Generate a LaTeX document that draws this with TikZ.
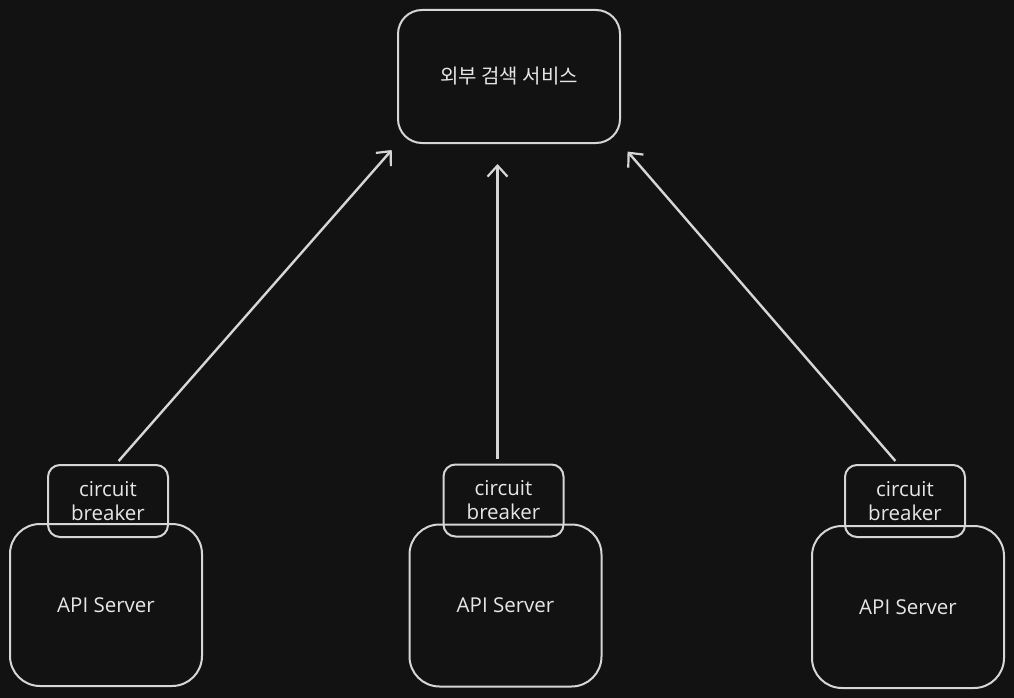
\documentclass[tikz,border=0pt]{standalone}
\usepackage{fontspec}
\setmainfont{Open Sans}
\newfontfamily\krfont{Noto Sans CJK KR}
\usepackage{tikz}
\usetikzlibrary{positioning,arrows.meta}
\definecolor{canvas}{HTML}{121212}
\definecolor{chalk}{HTML}{D6D6D6}
\definecolor{chalktext}{HTML}{E6E6E6}
\tikzset{
  sketchbox/.style={draw=chalk, line width=2pt, text=chalktext, align=center, inner sep=0pt},
  callarrow/.style={-{Straight Barb[length=11pt,width=20pt,line width=2.2pt]}, draw=chalk, line width=2.4pt}
}

\begin{document}
\begin{tikzpicture}[x=1pt, y=-1pt, font=\fontsize{20.5}{24}\selectfont]
  \tikzset{svcbox/.style={sketchbox, rounded corners=24pt, minimum width=222pt, minimum height=133pt},
           serverbox/.style={sketchbox, rounded corners=30pt, minimum width=192pt, minimum height=162pt},
           cbbox/.style={sketchbox, rounded corners=12pt, minimum width=120pt, minimum height=72pt}}

  \fill[canvas] (0,0) rectangle (1014,698);
  \useasboundingbox (0,0) rectangle (1014,698);

  \node[svcbox] (svc) at (509,76.5) {\krfont\fontsize{20}{24}\selectfont 외부 검색 서비스};

  \node[serverbox] (srvA) at (106,605) {API Server};
  \node[serverbox] (srvB) at (505.5,605.5) {API Server};
  \node[serverbox] (srvC) at (908,607) {API Server};

  \node[cbbox, above=-15pt of srvA, xshift=2pt] (cbA) {circuit\\breaker};
  \node[cbbox, above=-14pt of srvB, xshift=-2pt] (cbB) {circuit\\breaker};
  \node[cbbox, above=-13pt of srvC, xshift=-3pt] (cbC) {circuit\\breaker};

  \draw[callarrow, shorten <=4pt, shorten >=8pt] ([xshift=8pt]cbA.north) -- (svc.south west);
  \draw[callarrow, shorten <=5pt, shorten >=20pt] ([xshift=-6pt]cbB.north) -- ([xshift=-6pt]cbB.north |- svc.south);
  \draw[callarrow, shorten <=4pt, shorten >=10pt] ([xshift=-7pt]cbC.north) -- (svc.south east);
\end{tikzpicture}
\end{document}
